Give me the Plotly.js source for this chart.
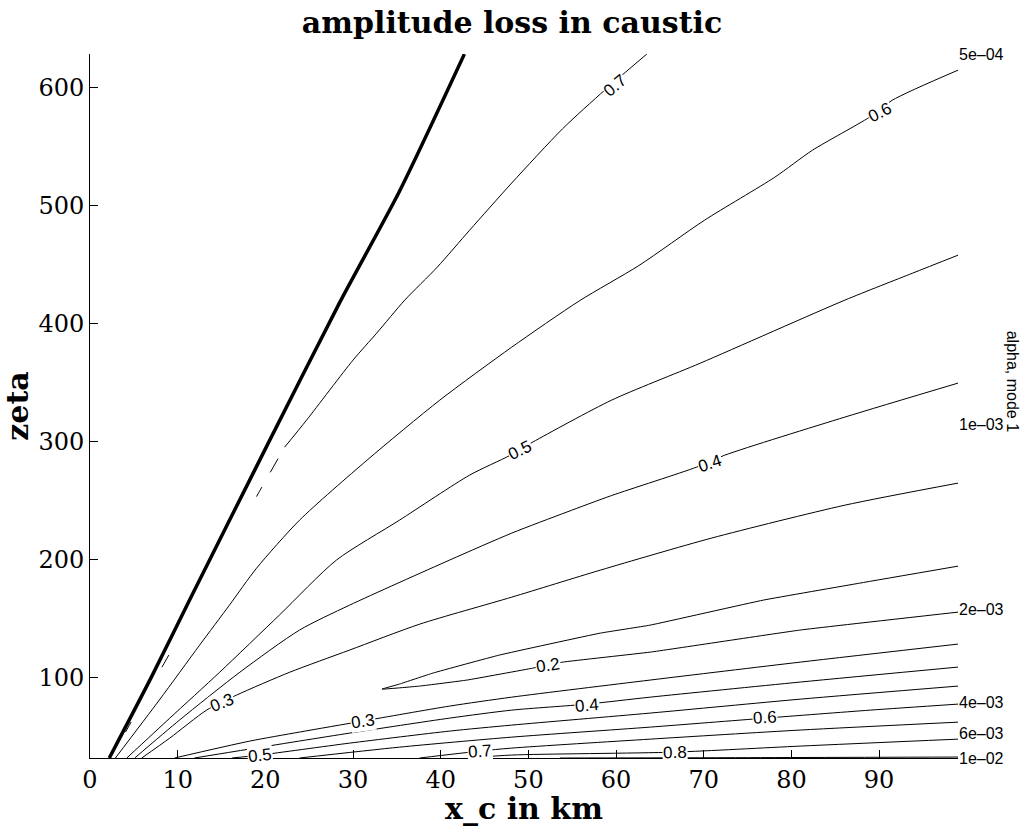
<!DOCTYPE html>
<html><head><meta charset="utf-8">
<script src="https://cdn.plot.ly/plotly-3.0.1.min.js"></script>
<style>html,body{margin:0;padding:0;background:#fff}#chart{width:1024px;height:826px}</style>
</head><body><div id="chart"></div>
<script>
// caustic boundary (thick line)
const causticX = [2.2, 7.0, 11.4, 20.1, 28.5, 35.3, 42.7];
const causticZ = [31.4, 100, 166, 295, 418, 512, 628.3];

// upper fan of contours
const c07X = [63.5, 58.7, 53.9, 48.1, 43.3, 39.6, 35.9, 32.7, 30.0, 24.7, 22.2];
const c07Z = [628.3, 597.7, 565.0, 519.0, 479.0, 447.6, 419.7, 391.7, 368.8, 317.9, 295.0];
const c07dashX = [22.2, 19.6, 15.9, 11.9, 8.6, 4.05];
const c07dashZ = [295.0, 261.1, 211.9, 156.8, 113.6, 53.4];

const c06X = [2.9, 7.9, 12.5, 15.9, 19.0, 23.9, 31.6, 39.9, 48.1, 55.8, 62.6, 70.1, 78.1, 82.4, 88.9, 91.5, 99];
const c06Z = [31.4, 80.5, 127.1, 161.0, 192.4, 233.1, 284.0, 334.9, 379.8, 419.0, 449.0, 487.5, 523.9, 546.8, 574.8, 589.2, 614.7];

const c05X = [4.2, 9.1, 14.8, 21.6, 28.1, 35.3, 43.3, 47.9, 50.5, 59.5, 69.6, 86.1, 93.8, 99];
const c05Z = [31.4, 65.2, 104.2, 152.6, 199.2, 233.1, 271.3, 288.0, 299.3, 334.9, 366.2, 419.7, 442.5, 457.8];

const c04X = [5.1, 10.2, 17.1, 23.9, 29.6, 41.0, 48.1, 54.4, 59.5, 69.2, 72.4, 86.1, 99];
const c04Z = [31.4, 63.5, 104.2, 139.9, 161.0, 199.2, 222.1, 240.0, 254.0, 278.1, 288.2, 320.5, 349.3];

const c03X = [5.9, 9.1, 13.3, 16.7, 22.8, 29.6, 37.6, 48.1, 58.2, 70.9, 86.1, 99];
const c03Z = [31.4, 48.3, 72.0, 84.7, 104.2, 122.9, 144.9, 167.8, 190.7, 217.9, 245.8, 264.5];

// closed tongue of the 0.2 contour (upper branch back to tip, then lower branch)
const c02X = [99, 87.8, 76.8, 63.9, 58.2, 46.7, 39.1, 35.3, 33.3, 37.6, 43.0, 50.5, 53.9, 63.9, 81.0, 99];
const c02Z = [194.1, 179.7, 165.3, 144.1, 137.3, 118.7, 103.4, 94.1, 89.8, 92.4, 97.5, 107.6, 112.7, 121.2, 139.9, 155.1];

// lower group of contours
const d03X = [9.65, 18.2, 23.9, 31.1, 41.0, 48.1, 63.9, 81.0, 99];
const d03Z = [31.4, 45.7, 53.4, 62.7, 75.4, 83.0, 97.5, 112.7, 128.0];
const d04X = [11.9, 18.2, 29.6, 41.0, 48.1, 56.7, 63.9, 81.0, 99];
const d04Z = [31.4, 39.0, 52.5, 65.2, 72.0, 77.1, 83.0, 95.8, 108.5];
const d05X = [16.2, 19.4, 29.6, 41.0, 48.1, 63.9, 81.0, 99];
const d05Z = [31.4, 33.9, 44.0, 54.2, 59.3, 69.5, 81.3, 92.4];
const d06X = [23.9, 35.3, 48.1, 63.9, 77.0, 89.0, 99];
const d06Z = [31.4, 40.6, 49.1, 57.6, 65.2, 72.0, 77.1];
const d07X = [37.6, 44.5, 48.1, 63.9, 81.0, 99];
const d07Z = [31.4, 37.3, 39.8, 47.4, 55.1, 61.8];
const d08X = [43.3, 48.1, 66.7, 81.0, 99];
const d08Z = [31.4, 33.9, 36.4, 41.5, 47.4];
const d09X = [53.6, 69.6, 99];
const d09Z = [31.4, 31.6, 32.2];

// contour labels
const labelText = ['0.7', '0.6', '0.5', '0.4', '0.3', '0.3', '0.2', '0.4', '0.5', '0.6', '0.7', '0.8'];
const labelX = [59.9, 90.1, 49.0, 70.7, 15.1, 31.1, 52.2, 56.7, 19.4, 77.0, 44.5, 66.7];
const labelZ = [602.0, 579.1, 292.5, 281.4, 78.8, 62.7, 110.2, 76.3, 33.9, 66.1, 37.3, 36.4];

// right axis: alpha, mode 1 (alpha = const / zeta)
const alphaTicks = [5e-4, 1e-3, 2e-3, 4e-3, 6e-3, 1e-2];
const alphaText = ['5e\u201304', '1e\u201303', '2e\u201303', '4e\u201303', '6e\u201303', '1e\u201302'];
const alphaConst = Math.PI / 10;

const labelAngle = [-40, -27, -26, -18, -22, -8, -8, -5, -6, -3, -4, -2];

const thin = {color: '#000', width: 1, shape: 'spline', smoothing: 0.7};
function line(x, y, extra) {
  return Object.assign({x: x, y: y, type: 'scatter', mode: 'lines', line: thin, hoverinfo: 'skip', showlegend: false}, extra || {});
}
const traces = [
  line(causticX, causticZ, {line: {color: '#000', width: 3.5, shape: 'spline', smoothing: 0.7}}),
  line(c07X, c07Z),
  line(c07dashX, c07dashZ, {line: {color: '#000', width: 1, dash: '0px,13px,16px,17px,11px,181px,14px,63px,12px,200px', shape: 'spline', smoothing: 0.7}}),
  line(c06X, c06Z), line(c05X, c05Z), line(c04X, c04Z), line(c03X, c03Z),
  line(c02X, c02Z, {line: {color: '#000', width: 1, shape: 'spline', smoothing: 0.3}}),
  line(d03X, d03Z), line(d04X, d04Z), line(d05X, d05Z), line(d06X, d06Z),
  line(d07X, d07Z), line(d08X, d08Z), line(d09X, d09Z),
  {x: [null], y: [null], type: 'scatter', mode: 'lines', yaxis: 'y2', showlegend: false, hoverinfo: 'skip'}
];

const annotations = labelText.map((t, i) => ({
  x: labelX[i], y: labelZ[i], xref: 'x', yref: 'y', text: t, showarrow: false,
  textangle: labelAngle[i], bgcolor: '#fff', borderpad: 0,
  font: {family: 'Liberation Sans, Arial, sans-serif', size: 17, color: '#000'}
}));
annotations.push({
  xref: 'paper', yref: 'paper', x: 1.063, y: 0.535, xanchor: 'center', yanchor: 'middle',
  text: 'alpha, mode 1', showarrow: false,
  textangle: 90, font: {family: 'Liberation Sans, Arial, sans-serif', size: 16, color: '#000'}
});

const yRange = [31.4, 628.4];
const serif = 'DejaVu Serif, serif';
const layout = {
  width: 1024, height: 826,
  margin: {l: 90, r: 66, t: 54, b: 68},
  paper_bgcolor: '#fff', plot_bgcolor: '#fff',
  title: {text: '<b>amplitude loss in caustic</b>', font: {family: serif, size: 30, color: '#000'},
          x: 0.5, xanchor: 'center', y: 0.986, yanchor: 'top', yref: 'container'},
  xaxis: {range: [0, 99], tick0: 0, dtick: 10, ticks: 'inside', ticklen: 8, tickcolor: '#000',
          showline: true, linecolor: '#000', linewidth: 1, showgrid: false, zeroline: false,
          tickfont: {family: serif, size: 24, color: '#000'},
          title: {text: '<b>x_c in km</b>', font: {family: serif, size: 30, color: '#000'}, standoff: 4}},
  yaxis: {range: yRange, tickvals: [100, 200, 300, 400, 500, 600], ticks: 'inside', ticklen: 8, tickcolor: '#000',
          showline: true, linecolor: '#000', linewidth: 1, showgrid: false, zeroline: false,
          tickfont: {family: serif, size: 24, color: '#000'},
          title: {text: '<b>zeta</b>', font: {family: serif, size: 30, color: '#000'}, standoff: 4}},
  yaxis2: {range: yRange, overlaying: 'y', side: 'right', showline: false, showgrid: false, zeroline: false,
           ticks: '', tickvals: alphaTicks.map(a => alphaConst / a), ticktext: alphaText,
           tickfont: {family: 'Liberation Sans, Arial, sans-serif', size: 16, color: '#000'}},
  annotations: annotations
};
Plotly.newPlot('chart', traces, layout, {staticPlot: true});
</script></body></html>
